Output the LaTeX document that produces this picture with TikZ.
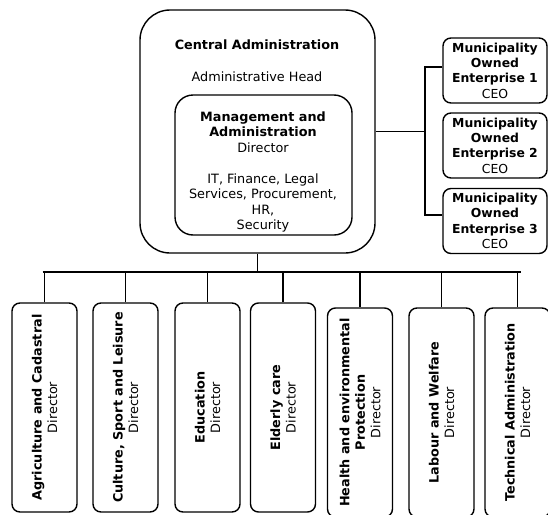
\documentclass[tikz,border=0pt]{standalone}
\usepackage{fontspec}
\setmainfont{DejaVu Sans}
\begin{document}
\begin{tikzpicture}[x=1pt,y=-1pt, line width=1.4pt,
  box/.style={draw, rounded corners=8pt, inner sep=0pt},
  bbox/.style={box, minimum width=65pt, minimum height=209pt},
  ebox/.style={box, minimum width=104pt, minimum height=65pt},
  txt/.style={font=\fontsize{12.8}{15.5}\selectfont, align=center, inner sep=0pt},
  etxt/.style={font=\fontsize{12.4}{15.3}\selectfont, align=center, inner sep=0pt},
  conn/.style={draw, line width=1.4pt}]
\useasboundingbox (0,0) rectangle (548,514);
% central administration
\node[box, rounded corners=30pt, minimum width=235pt, minimum height=243pt] (ca) at (257.5,131.5) {};
\node[txt] (cat) at (257,45) {\textbf{Central Administration}};
\node[txt] (cah) at (257,77) {Administrative Head};
\node[box, rounded corners=18pt, minimum width=177pt, minimum height=140pt] (ma) at (263.5,165) {};
\node[txt] (mat) at (263,172) {\textbf{Management and}\\\textbf{Administration}\\Director\\[15.5pt]IT, Finance, Legal\\Services, Procurement,\\HR,\\Security};
% enterprises
\node[ebox] (e1) at (495,70.5) {};
\node[ebox] (e2) at (495,145.5) {};
\node[ebox] (e3) at (495,221) {};
\node[etxt] (e1t) at (e1.center) {\textbf{Municipality}\\\textbf{Owned}\\\textbf{Enterprise 1}\\CEO};
\node[etxt] (e2t) at (e2.center) {\textbf{Municipality}\\\textbf{Owned}\\\textbf{Enterprise 2}\\CEO};
\node[etxt] (e3t) at (e3.center) {\textbf{Municipality}\\\textbf{Owned}\\\textbf{Enterprise 3}\\CEO};
\coordinate (j) at (425,131.5);
\draw[conn] (ca.east) -- (j);
\draw[conn] ([yshift=3.5pt]e1.west) -| (j) |- ([yshift=6pt]e3.west);
% bottom boxes
\node[bbox] (b1) at (44.5,407.5) {};
\node[bbox] (b2) at (125.5,407.5) {};
\node[bbox] (b3) at (207.5,407.5) {};
\node[bbox] (b4) at (283,407.5) {};
\node[bbox] (b5) at (360,412.5) {};
\node[bbox] (b6) at (441.5,412.5) {};
\node[bbox] (b7) at (517.5,412.5) {};
\node[txt, rotate=90] (t1) at (b1.center) {\textbf{Agriculture and Cadastral}\\Director};
\node[txt, rotate=90] (t2) at (b2.center) {\textbf{Culture, Sport and Leisure}\\Director};
\node[txt, rotate=90] (t3) at (b3.center) {\textbf{Education}\\Director};
\node[txt, rotate=90] (t4) at (b4.center) {\textbf{Elderly care}\\Director};
\node[txt, rotate=90] (t5) at (b5.center) {\textbf{Health and environmental}\\\textbf{Protection}\\Director};
\node[txt, rotate=90] (t6) at (b6.center) {\textbf{Labour and Welfare}\\Director};
\node[txt, rotate=90] (t7) at (b7.center) {\textbf{Technical Administration}\\Director};
% bus
\coordinate (bus) at (257.5,272);
\draw[conn] (ca.south) -- (bus);
\draw[conn] ([xshift=-2pt]b1.north |- bus) -- ([xshift=3pt]b7.north |- bus);
\foreach \b in {b1,b2,b3,b4,b5,b6,b7}{
  \draw[conn] (\b.north) -- (\b.north |- bus);
}
\end{tikzpicture}
\end{document}
